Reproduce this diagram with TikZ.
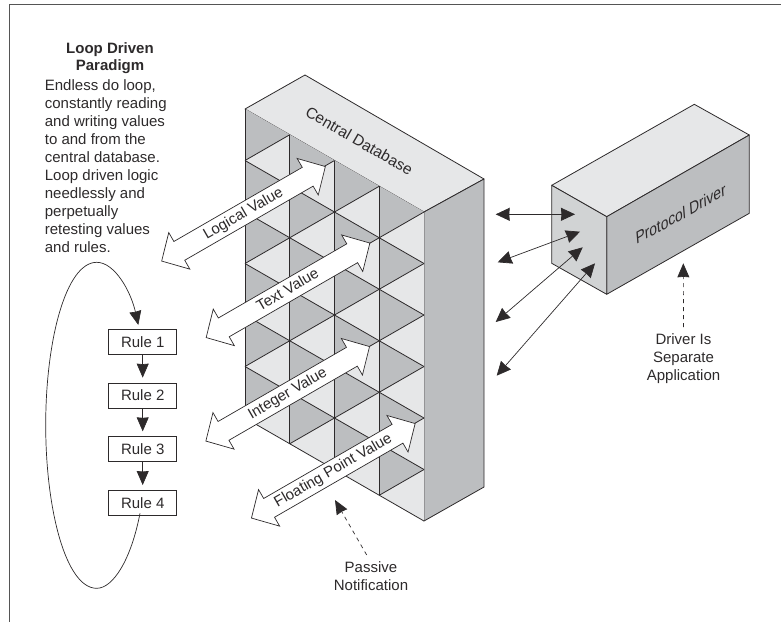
\documentclass[tikz,border=0pt]{standalone}
\usepackage{fontspec}
\setmainfont{Liberation Sans}
\usetikzlibrary{positioning, arrows.meta, shapes.arrows}
\definecolor{inkgray}{RGB}{45, 42, 43}
\definecolor{framegray}{RGB}{85, 85, 85}
\definecolor{shelflight}{RGB}{230, 231, 232}
\definecolor{shelfdark}{RGB}{188, 190, 192}
\definecolor{drivermid}{RGB}{209, 211, 212}

\begin{document}
\begin{tikzpicture}[
    x=1pt, y=-1pt,
    font=\fontsize{15}{18}\selectfont,
    text=inkgray,
    solid/.style={draw=inkgray, line width=0.8pt, line join=round},
    rulebox/.style={rectangle, draw=inkgray, line width=0.7pt, fill=white, minimum width=68pt, minimum height=25pt, inner sep=0pt},
    valuearrow/.style={double arrow, draw=inkgray, line width=0.7pt, fill=white, rotate=30, minimum height=189pt, minimum width=41.5pt,
        double arrow head extend=10.25pt, double arrow tip angle=92, inner xsep=0pt, inner ysep=3.5pt, text height=11pt, text depth=3pt},
    arrow/.style={-{Stealth[inset=0.5pt, length=14pt, width=12pt]}, draw=inkgray, line width=0.7pt},
    twoway/.style={{Stealth[inset=0.5pt, length=14pt, width=13pt]}-{Stealth[inset=0.5pt, length=14pt, width=13pt]}, draw=inkgray, line width=0.7pt},
    dashedarrow/.style={arrow, dash pattern=on 4pt off 4pt},
    sidetext/.style={align=center, inner sep=0pt}
]
\useasboundingbox (0,0) rectangle (781,622);

% Frame
\draw[framegray, line width=1.3pt] (781,4.7) -- (9.5,4.7) -- (9.5,622);

% ============ CENTRAL DATABASE ============
\filldraw[solid, fill=shelflight] (245,109) -- (305,75) -- (484,179) -- (424,212) -- cycle;
\filldraw[solid, fill=shelfdark] (424,212) -- (484,179) -- (484,487) -- (424,521) -- cycle;
\fill[shelflight] (245,109) -- (424,212) -- (424,521) -- (245,418) -- cycle;

% Dark shelf walls, column by column
\fill[shelfdark] (245,109) -- (289.75,134.75) -- (245,160.5) -- cycle
    (245,160.5) -- (289.75,186.25) -- (245,212) -- cycle
    (245,212) -- (289.75,237.75) -- (245,263.5) -- cycle
    (245,263.5) -- (289.75,289.25) -- (245,315) -- cycle
    (245,315) -- (289.75,340.75) -- (245,366.5) -- cycle
    (245,366.5) -- (289.75,392.25) -- (245,418) -- cycle;
\fill[shelfdark] (289.75,134.75) -- (334.5,160.5) -- (289.75,186.25) -- cycle
    (289.75,186.25) -- (334.5,212) -- (289.75,237.75) -- cycle
    (289.75,237.75) -- (334.5,263.5) -- (289.75,289.25) -- cycle
    (289.75,289.25) -- (334.5,315) -- (289.75,340.75) -- cycle
    (289.75,340.75) -- (334.5,366.5) -- (289.75,392.25) -- cycle
    (289.75,392.25) -- (334.5,418) -- (289.75,443.75) -- cycle;
\fill[shelfdark] (334.5,160.5) -- (379.25,186.25) -- (334.5,212) -- cycle
    (334.5,212) -- (379.25,237.75) -- (334.5,263.5) -- cycle
    (334.5,263.5) -- (379.25,289.25) -- (334.5,315) -- cycle
    (334.5,315) -- (379.25,340.75) -- (334.5,366.5) -- cycle
    (334.5,366.5) -- (379.25,392.25) -- (334.5,418) -- cycle
    (334.5,418) -- (379.25,443.75) -- (334.5,469.5) -- cycle;
\fill[shelfdark] (379.25,186.25) -- (424,212) -- (379.25,237.75) -- cycle
    (379.25,237.75) -- (424,263.5) -- (379.25,289.25) -- cycle
    (379.25,289.25) -- (424,315) -- (379.25,340.75) -- cycle
    (379.25,340.75) -- (424,366.5) -- (379.25,392.25) -- cycle
    (379.25,392.25) -- (424,418) -- (379.25,443.75) -- cycle
    (379.25,443.75) -- (424,469.5) -- (379.25,495.25) -- cycle;

% Shelf lines
\draw[solid] (245,109) -- (245,418) (289.75,134.75) -- (289.75,443.75)
    (334.5,160.5) -- (334.5,469.5) (379.25,186.25) -- (379.25,495.25);
\draw[solid] (245,160.5) -- (424,263.5) (245,212) -- (424,315) (245,263.5) -- (424,366.5)
    (245,315) -- (424,418) (245,366.5) -- (424,469.5) (245,418) -- (424,521);
\draw[solid] (245,160.5) -- (289.75,134.75) (245,212) -- (334.5,160.5) (245,263.5) -- (379.25,186.25)
    (245,315) -- (424,212) (245,366.5) -- (424,263.5) (245,418) -- (424,315)
    (289.75,443.75) -- (424,366.5) (334.5,469.5) -- (424,418) (379.25,495.25) -- (424,469.5);

\node[rotate=-30, font=\fontsize{15.5}{18}\selectfont] (dbtitle) at (359.3,140.7) {Central Database};

% ============ PROTOCOL DRIVER ============
\filldraw[solid, fill=shelflight] (551.7,185.3) -- (694.3,104.3) -- (749.3,135) -- (606.7,216.7) -- cycle;
\filldraw[solid, fill=shelfdark] (606.7,216.7) -- (749.3,135) -- (749.3,213.3) -- (606.7,294.3) -- cycle;
\filldraw[solid, fill=drivermid] (551.7,185.3) -- (606.7,216.7) -- (606.7,294.3) -- (551.7,263.3) -- cycle;
\node[rotate=29, xslant=0.45, font=\fontsize{15.5}{18}\selectfont] (drivertitle) at (680.7,214) {Protocol Driver};

% Database to driver links
\coordinate (dbtap1) at (495.7,214.3);
\coordinate (dbtap2) at (497.7,262.3);
\coordinate (dbtap3) at (495.7,322);
\coordinate (dbtap4) at (496.7,375.7);
\coordinate (port1) at (575,214.3);
\coordinate (port2) at (580,231.7);
\coordinate (port3) at (582.7,247.3);
\coordinate (port4) at (595,263.3);
\draw[twoway] (dbtap1) -- (port1);
\draw[twoway] (dbtap2) -- (port2);
\draw[twoway] (dbtap3) -- (port3);
\draw[twoway] (dbtap4) -- (port4);

% ============ VALUE ARROWS ============
\node[valuearrow] (logicalvalue) at (243.5,213.8) {Logical Value};
\node[valuearrow] (textvalue) at (288,290.3) {Text Value};
\node[valuearrow] (integervalue) at (287.7,393.8) {Integer Value};
\node[valuearrow] (floatvalue) at (333.3,470.8) {Floating Point Value};

% ============ LEFT SIDE: LOOP ============
\node[sidetext, font=\fontsize{15}{17.5}\selectfont\bfseries, anchor=north] (looptitle) at (110,42) {Loop Driven\\Paradigm};
\node[align=left, inner sep=0pt, anchor=north west] (looptext) at (44.7,79) {Endless do loop,\\constantly reading\\and writing values\\to and from the\\central database.\\Loop driven logic\\needlessly and\\perpetually\\retesting values\\and rules.};

\node[rulebox] (rule1) at (142.7,341.8) {Rule 1};
\node[rulebox, below=28pt of rule1] (rule2) {Rule 2};
\node[rulebox, below=28pt of rule2] (rule3) {Rule 3};
\node[rulebox, below=28pt of rule3] (rule4) {Rule 4};

\draw[arrow, shorten >=5pt] (rule1) -- (rule2);
\draw[arrow, shorten >=5pt] (rule2) -- (rule3);
\draw[arrow, shorten >=5pt] (rule3) -- (rule4);

\coordinate (loopstart) at (140,513.3);
\coordinate (loopbottom) at (96.7,588.3);
\coordinate (loopleft) at (45.7,425);
\coordinate (looptop) at (96.7,262.3);
\coordinate (looptip) at (138.3,325);
\draw[arrow] (loopstart) .. controls (131,560) and (113,588.3) .. (loopbottom)
    .. controls (66,588.3) and (45.7,510) .. (loopleft)
    .. controls (45.7,340) and (66,262.3) .. (looptop)
    .. controls (115,262.3) and (131,292) .. (looptip);

% ============ CALLOUTS ============
\node[sidetext, anchor=north] (driverlabel) at (683.5,333) {Driver Is\\Separate\\Application};
\coordinate (drivertip) at (683.3,263.3);
\draw[dashedarrow, shorten <=6pt] (driverlabel.north) -- (drivertip);

\node[sidetext, anchor=north, font=\fontsize{15}{18.5}\selectfont] (passivelabel) at (371,561) {Passive\\Notification};
\coordinate (passivetail) at (366.7,555);
\coordinate (passivetip) at (335,500);
\draw[dashedarrow] (passivetail) -- (passivetip);

\end{tikzpicture}
\end{document}
